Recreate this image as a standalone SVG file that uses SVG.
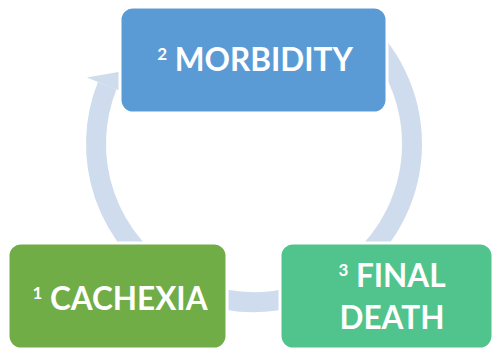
<svg xmlns="http://www.w3.org/2000/svg" width="493" height="350" viewBox="0 0 493 350">
<style>
.band{fill:none;stroke:#CFDCEE;stroke-width:20;stroke-linecap:butt}
.head{fill:#CFDCEE}
.box{stroke:#FFFFFF;stroke-width:3}
.lbl{font-family:Lato,"Liberation Sans",sans-serif;font-weight:bold;fill:#FFFFFF;font-size:31.5px;text-anchor:middle}
.sup{font-size:17px}
</style>
<rect width="493" height="350" fill="#FFFFFF"/>
<g id="connectors">
<path class="band" d="M175,280.8 A158,158 0 0 1 107.2,85.6"/>
<polygon class="head" points="86.8,77.5 124,71 127.6,93.7"/>
<path class="band" d="M355.6,23 A158,158 0 0 1 355.6,265"/>
<polygon class="head" points="369.7,281.9 328,283.5 341.4,248.2"/>
<path class="band" d="M294.9,296.6 A158,158 0 0 1 200,292.5"/>
<polygon class="head" points="192.4,313 170,278 207.5,271.8"/>
</g>
<g id="node-morbidity">
<rect class="box" x="120" y="7" width="267" height="106" rx="13" fill="#5B9BD5"/>
<text class="lbl" x="255" y="71"><tspan class="sup" dy="-11">2</tspan><tspan dy="11"> MORBIDITY</tspan></text>
</g>
<g id="node-cachexia">
<rect class="box" x="8" y="243" width="219" height="106" rx="13" fill="#70AD47"/>
<text class="lbl" x="120" y="310"><tspan class="sup" dy="-11">1</tspan><tspan dy="11"> CACHEXIA</tspan></text>
</g>
<g id="node-final-death">
<rect class="box" x="280" y="243" width="213" height="106" rx="13" fill="#50C48C"/>
<text class="lbl" x="392" y="287"><tspan class="sup" dy="-11">3</tspan><tspan dy="11"> FINAL</tspan></text>
<text class="lbl" x="392" y="329">DEATH</text>
</g>
</svg>
